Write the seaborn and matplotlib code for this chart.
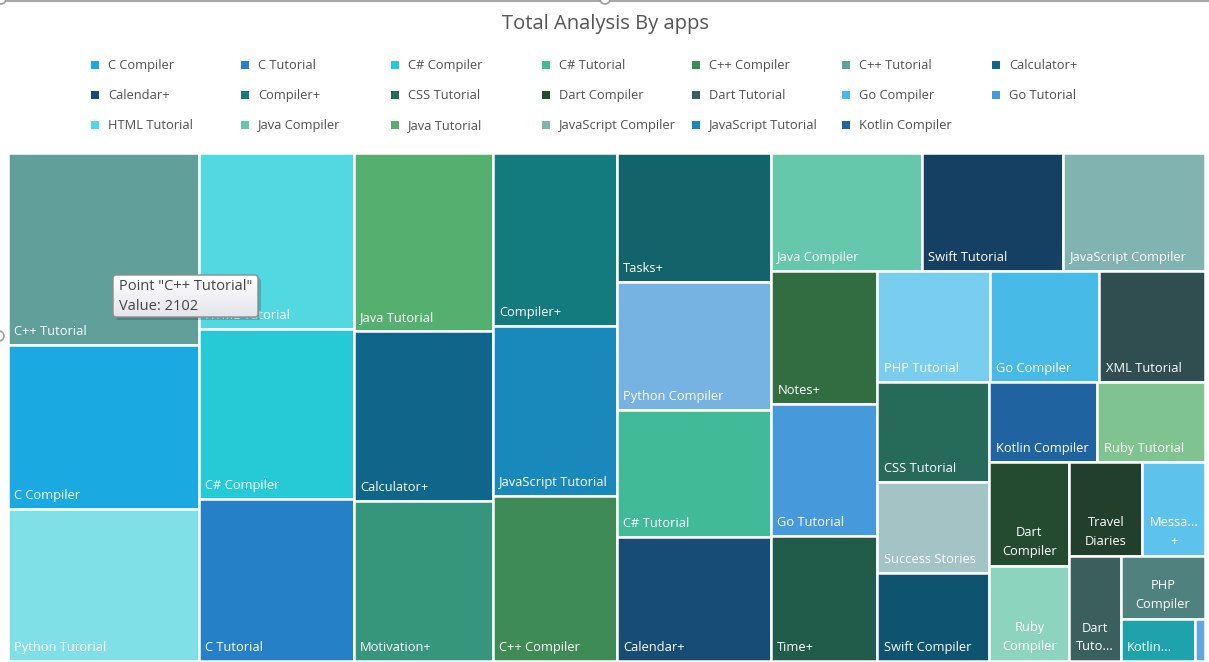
import numpy as np
import matplotlib.pyplot as plt
import seaborn as sns
from matplotlib.patches import Rectangle, FancyBboxPatch, Circle

# ---------------------------------------------------------------
# data (descending order, as the treemap lays them out)
# ---------------------------------------------------------------
apps = ["C++ Tutorial", "C Compiler", "Python Tutorial",
        "HTML Tutorial", "C# Compiler", "C Tutorial",
        "Java Tutorial", "Calculator+", "Motivation+",
        "Compiler+", "JavaScript Tutorial", "C++ Compiler",
        "Tasks+", "Python Compiler", "C# Tutorial", "Calendar+",
        "Java Compiler", "Swift Tutorial", "JavaScript Compiler",
        "Notes+", "Go Tutorial", "Time+",
        "PHP Tutorial", "Go Compiler", "XML Tutorial",
        "CSS Tutorial", "Success Stories", "Swift Compiler",
        "Kotlin Compiler", "Ruby Tutorial",
        "Dart Compiler", "Ruby Compiler",
        "Travel Diaries", "Messages+",
        "Dart Tutorial", "PHP Compiler", "Kotlin Tutorial", "XML Compiler"]
values = [2102, 1786, 1655,
          1564, 1503, 1432,
          1419, 1347, 1268,
          1230, 1202, 1167,
          1137, 1124, 1115, 1093,
          1020, 956, 956,
          809, 800, 758,
          715, 699, 673,
          635, 585, 563,
          488, 486,
          474, 436,
          391, 335,
          307, 304, 179, 25]
colors = ["#61a09a", "#1ba9e1", "#7fe1e7",
          "#52d8e0", "#26cad6", "#2580c7",
          "#55af6e", "#10668a", "#35967b",
          "#137b7e", "#1889ba", "#3e8b56",
          "#12636a", "#77b3e2", "#41ba97", "#174c77",
          "#66c8aa", "#164063", "#81b3b1",
          "#326c41", "#469adc", "#215b49",
          "#79cdee", "#47bae7", "#304e4f",
          "#266b59", "#a3c3c4", "#0e5470",
          "#1f64a0", "#7fc390",
          "#244a30", "#8dd4bf",
          "#213f2b", "#5ec3ec",
          "#3a5f5c", "#4f827e", "#1ea3ad", "#62a6e0"]
# how many tiles go in each strip of the squarified layout
strip_counts = [3, 3, 3, 3, 4, 3, 3, 3, 3, 2, 2, 2, 1, 1, 1, 1]
# labels that the chart wraps / truncates in small tiles
short_labels = {"Dart Compiler": "Dart\nCompiler", "Ruby Compiler": "Ruby\nCompiler",
                "Travel Diaries": "Travel\nDiaries", "Messages+": "Messa...\n+",
                "Dart Tutorial": "Dart\nTuto...", "PHP Compiler": "PHP\nCompiler",
                "Kotlin Tutorial": "Kotlin...", "XML Compiler": ""}
title = "Total Analysis By apps"


def strip_layout(vals, counts, x, y, w, h):
    # squarified style: each strip runs along the shorter side of what is left
    k = w * h / float(sum(vals))
    rects = []
    i = 0
    for n in counts:
        row = vals[i:i + n]
        s = sum(row) * k
        if w >= h:
            sw = s / h
            yy = y
            for v in row:
                rh = v * k / sw
                rects.append((x, yy, sw, rh))
                yy += rh
            x += sw
            w -= sw
        else:
            sh = s / w
            xx = x
            for v in row:
                rw = v * k / sh
                rects.append((xx, y, rw, sh))
                xx += rw
            y += sh
            h -= sh
        i += n
    return rects


sns.set_theme(style="white")
plt.rcParams['font.family'] = ['Open Sans', 'DejaVu Sans']

W, H = 1209, 662
fig = plt.figure(figsize=(W / 100, H / 100), dpi=100)
ax = fig.add_axes([0, 0, 1, 1])
ax.set_xlim(0, W)
ax.set_ylim(H, 0)
ax.axis('off')

# design-surface frame at the top
ax.plot([0, W], [1, 1], color='#a8a8a8', lw=1.5, zorder=1)
for cx, cy in [(1, -1), (605, -1), (-1, 336)]:
    ax.add_patch(Circle((cx, cy), 5, fc='white', ec='#9a9a9a', lw=1.2, zorder=2, clip_on=False))

ax.text(605, 23.5, title, ha='center', va='center', fontsize=14.5, color='#555555')

# legend (alphabetical, first 20 shown)
legend_items = sorted(apps, key=str.lower)[:20]
col_of = dict(zip(apps, colors))
for j, name in enumerate(legend_items):
    r, c = divmod(j, 7)
    lx = 91 + c * 150.2
    ly = 65.5 + r * 30
    ax.add_patch(Rectangle((lx, ly - 4.5), 8, 8, fc=col_of[name], ec='none'))
    ax.text(lx + 17, ly, name, ha='left', va='center', fontsize=9.3, color='#505050')

# treemap tiles
rects = strip_layout(values, strip_counts, 7.5, 152.5, 1197.5, 508.5)
for (x, y, w, h), name, col in zip(rects, apps, colors):
    ax.add_patch(Rectangle((x, y), w, h, fc=col, ec='white', lw=1.8, zorder=3))
    lab = short_labels.get(name, name)
    if lab == "":
        continue
    if "\n" in lab:
        ax.text(x + w / 2, y + h - 11, lab, ha='center', va='baseline', multialignment='center',
                fontsize=9.3, color='white', linespacing=1.55, zorder=4)
    else:
        ax.text(x + 6.5, y + h - 10, lab, ha='left', va='baseline',
                fontsize=9.3, color='white', zorder=4)

# tooltip over the first tile
tx, ty, tw, th = 113, 275, 145, 42
ax.add_patch(FancyBboxPatch((tx + 3, ty + 3), tw, th, boxstyle="round,pad=0,rounding_size=3",
                            fc='#000000', ec='none', alpha=0.18, zorder=5))
box = FancyBboxPatch((tx, ty), tw, th, boxstyle="round,pad=0,rounding_size=3",
                     fc='none', ec='#8c8c8c', lw=1.0, zorder=7)
ax.add_patch(box)
grad = np.linspace(0, 1, 50).reshape(-1, 1)
im = ax.imshow(grad, extent=(tx, tx + tw, ty + th, ty), cmap=sns.blend_palette(['#ffffff', '#e4e4ec'], as_cmap=True),
               aspect='auto', zorder=6)
im.set_clip_path(box)
ax.set_xlim(0, W)
ax.set_ylim(H, 0)
ax.text(tx + 6, ty + 11, 'Point "%s"' % apps[0], ha='left', va='center', fontsize=10.5, color='#444444', zorder=8)
ax.text(tx + 6, ty + 31, 'Value: %d' % values[0], ha='left', va='center', fontsize=10.5, color='#444444', zorder=8)

fig.savefig('out.png', dpi=100)
